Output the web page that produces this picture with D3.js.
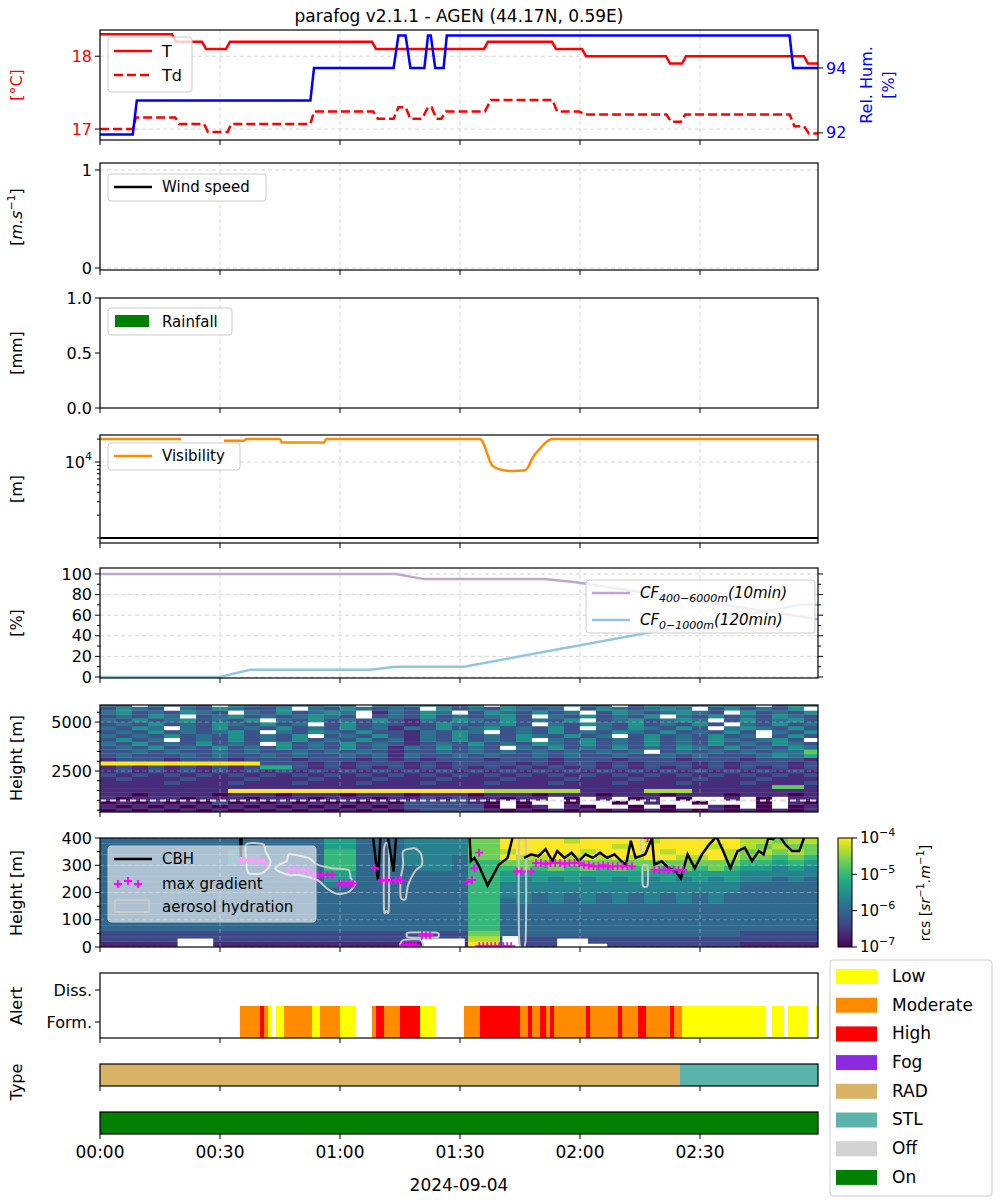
<!DOCTYPE html>
<html><head><meta charset="utf-8">
<script src="https://cdn.jsdelivr.net/npm/d3@7"></script>
<style>body{margin:0;background:#fff;font-family:"DejaVu Sans",sans-serif}</style>
</head><body><svg id="c" width="1000" height="1200"></svg>
<script>
// ---------------- DATA ----------------
const T_time=[0,18,19,25.5,26.5,31.5,32.5,68,69,96,97,113,114,120.5,121.5,141.5,142.5,145.5,146.5,176,177,179.5];
const T_val=[18.3,18.3,18.2,18.2,18.1,18.1,18.2,18.2,18.1,18.1,18.2,18.2,18.1,18.1,18.0,18.0,17.9,17.9,18.0,18.0,17.9,17.9];
const Td_time=[0,8.2,9,18.8,19.8,26,27,31.9,32.8,52.6,53.5,68.3,69.5,73.4,74.6,76.4,77.6,80.5,82,82.9,84.1,85.3,86.5,96.2,97.7,113.1,114.3,119.7,121.4,141.6,142.8,145.2,146.3,172.4,173.6,176,177.2,179.5];
const Td_val=[17.0,17.0,17.16,17.16,17.07,17.07,16.96,16.96,17.07,17.07,17.24,17.24,17.14,17.14,17.3,17.3,17.14,17.14,17.3,17.3,17.14,17.14,17.24,17.24,17.4,17.4,17.24,17.24,17.2,17.2,17.1,17.1,17.2,17.2,17.04,17.04,16.94,16.94];
const RH_time=[0,8.2,9.2,52.6,53.5,73.4,74.6,76.4,77.6,81.1,82,82.7,83.8,85.9,86.7,172.4,173.3,179.5];
const RH_val=[91.95,91.95,93,93,94,94,95,95,94,94,95,95,94,94,95,95,94,94];
const Vis_time=[0,20.3,20.8,30.5,31,36,36.5,45,45.5,56,56.5,95,96,97,98,100,103,106,107,108,110,112,113,179.5];
const Vis_val=[20000,20000,NaN,NaN,19000,19000,20000,20000,18000,18000,20000,20000,17000,12000,9000,8000,7600,7700,8500,11000,15000,19000,20000,20000];
const CFh_time=[0,74,81,111,119,179.5];
const CFh_val=[100,100,95,95,92,56];
const CFl_time=[0,30,37.5,67.5,74,91,175,179.5];
const CFl_val=[0,0,7,7,10,10,70,70];
// upper ceilometer (400-6000 m, 200 m rows, 4-min columns), level 0..9, x = missing
const hiRows=[ // row 0 = 400-600 m
"0101010101010101010122221010101010101010101010",
"1010101010101010101222220x01x10xx0x0xx10x0x01",
"0101010201010101010222210x0xx0xx0x1xx0xxx0x10",
"1011101110111011101121211011x0x1x01x0xx1x0x11",
"1101111011101110111011101110111011101110111011",
"1111111199999999999999997777771111777111111111",
"1111111111111111111111111111111111111111116611",
"1111211121112111211121112111211121112111211121",
"1211121112111211121112111211121112111211121112",
"2121212121212121212121212121212121212121212121",
"1212121212121212121212121212121212121212121212",
"1212121212552121212121212121212121212121212121",
"8888888888222121222121222212122121222121222121",
"1222122212221222121212221222122212221222122212",
"2322232322323223231322323223232232232322234352",
"2232322323223232321223232323232323x2323232336",
"2324232423242324231324232x3242324232432423243",
"3242324232x4232423212324232432423242324232432",
"2423x2324232423242313242324x3242324232432342x",
"3232423242324x232421324232432423x24232423x242",
"2324232342x3243242213243x2324232432423242x324",
"3243x3242324232423132423423242x3243242x343242",
"2324232432423x2423212432342x32432423242x32423",
"3242342324x3242324213243242324x2342343x242342",
"23243x2342323432x2324232342x3242324x324232432",
"34232432x3242343x13243x2432423x24323432x42324",
"2432x3243224x3243232x42324323x2432343x242324x",
"32x4232x43223242x3243224x3232432x24232423x243"];
// lower ceilometer (0-400 m, 20 m rows)
const loRows=[ // row 0 = 0-20 m
"11111111111111"+"11"+"111"+"1111"+"99"+"222222222222222"+"11111",
"22222222222222"+"22"+"222"+"2222"+"88"+"222222222222222"+"22222",
"22222222222222"+"22"+"222"+"2222"+"77"+"333333333333333"+"22222",
"33333333333333"+"33"+"333"+"3333"+"66"+"333333333333333"+"33333",
"33333333333333"+"33"+"333"+"3333"+"66"+"333333333333333"+"33333",
"33333333333333"+"33"+"333"+"3333"+"66"+"333333333333333"+"33333",
"33333333333333"+"33"+"333"+"3333"+"66"+"333333333333333"+"33333",
"33333333333333"+"33"+"333"+"3333"+"66"+"333333333333333"+"33333",
"33333333333333"+"33"+"333"+"3333"+"66"+"343434343434343"+"33333",
"33333333333333"+"33"+"333"+"3333"+"66"+"443434343434343"+"33333",
"33333333333333"+"33"+"333"+"3333"+"66"+"444444444444444"+"33333",
"33333333333333"+"44"+"333"+"3333"+"66"+"444444444444444"+"33333",
"33333333333333"+"55"+"333"+"3333"+"66"+"545454545454545"+"44343",
"33333333333333"+"55"+"333"+"3333"+"66"+"555555555555555"+"44444",
"33333333333333"+"66"+"333"+"3443"+"66"+"676767676767676"+"55454",
"33333333443333"+"66"+"333"+"4443"+"66"+"777777777777777"+"66565",
"33333333443333"+"66"+"333"+"4443"+"77"+"988989898998898"+"77676",
"33333333433333"+"66"+"333"+"4444"+"77"+"899998999989998"+"78787",
"33333333333333"+"55"+"333"+"4444"+"77"+"999999989999989"+"87877",
"33333333333333"+"55"+"333"+"4444"+"77"+"999989999899999"+"88788"];
const loMissing=[[19.4,28.3,31],[80.5,91.2,31],[100.6,104.8,40],[114.3,122,31],[122,126.8,12]];
const CBH_time=[35,35.2,35.4,NaN,68.3,69.5,70.1,NaN,72.0,73.4,74.0,NaN,92.4,92.7,93.6,94.8,96.9,98.3,99.7,101.9,103.1,NaN,106.0,107.8,109.6,111.4,113.1,114.3,116.1,117.9,119.7,121.4,123.2,125.0,126.8,128.6,130.3,131.5,132.7,133.9,136.3,138.0,138.6,140.4,142.2,144.0,145.2,146.9,148.7,150.5,152.3,154.1,155.8,157.6,159.4,161.2,163.0,164.7,165.9,167.1,168.3,169.5,171.3,173.0,174.8,176.0];
const CBH_val=[410,330,410,NaN,400,245,400,NaN,400,277,400,NaN,400,315,327,296,226,264,302,327,400,NaN,327,340,333,359,315,352,327,346,315,340,327,346,327,340,315,302,390,327,340,400,302,315,289,277,252,340,289,340,377,405,352,289,352,365,315,352,340,400,396,415,377,352,352,400];
const grad_time=[35,36.2,37.4,38.6,39.8,41,47.3,48.5,49.7,50.9,52.1,53.3,54.5,55.7,56.9,58.1,59.8,61,62.2,63.3,68.7,70.4,71.6,72.8,74,75.2,91.8,93,93.6,94.8,104.2,105.4,107.8,109,110.2,111.4,112.6,113.8,115,116.2,117.4,118.6,119.8,121,122.2,123.4,124.6,125.8,127,128.2,129.4,130.6,131.8,133,136.9,138.6,139.8,141,142.2,143.4,144.6,145.8,75.8,76.6,77.4,78.2,79,80.5,81.5,82.5,94.8,95.8,96.8,97.8,98.8,99.8,100.8,101.8,102.8];
const grad_val=[317,317,320,317,317,310,283,283,283,280,283,264,264,264,264,264,233,233,233,233,289,245,245,245,245,245,239,246,289,346,277,277,277,308,308,305,308,308,308,305,308,308,308,300,300,296,296,300,296,296,296,296,296,296,400,283,283,283,283,283,283,283,6,6,6,6,6,44,44,44,3,3,3,3,3,3,3,3,3];
const hydro=[
 [[36.6,377],[40.8,377],[41.4,352],[42.6,315],[42.0,289],[40.2,270],[37.2,270],[36.6,302]],
 [[47.3,340],[52.1,327],[54.4,302],[58.0,289],[62.1,283],[62.7,252],[63.9,233],[62.1,201],[59.2,195],[56.8,214],[54.4,245],[49.7,264],[47.3,264],[44.9,277],[43.8,289],[44.9,302],[46.7,315]],
 [[71.0,359],[72.2,365],[72.2,138],[71.6,132],[71.0,138]],
 [[75.8,352],[78.7,362],[80.3,340],[80.5,302],[78.7,277],[77.0,226],[76.4,176],[75.2,182],[75.2,252],[75.8,302]],
 [[104.8,402],[106.4,402],[106.4,25],[104.8,25]],
 [[135.3,396],[136.9,396],[136.9,352],[135.3,352]],
 [[135.7,296],[136.9,296],[136.9,226],[135.7,226]],
 [[77.2,53],[84.0,53],[84.7,44],[84.0,35],[77.2,35],[76.7,44]],
 [[75.2,0],[75.8,25],[80.0,27],[80.5,0]]];
const alertSeg=[[35,40,"M"],[40,41,"H"],[41,42,"M"],[42,43,"L"],[44,46,"L"],[46,53,"M"],[53,55,"L"],[55,60,"M"],[60,64,"L"],[68,69,"M"],[69,71,"H"],[71,75,"M"],[75,80,"H"],[80,84,"L"],[91,95,"M"],[95,105,"H"],[105,107,"M"],[107,108,"H"],[108,110,"M"],[110,111.5,"H"],[111.5,112.5,"M"],[112.5,113.5,"H"],[113.5,121.5,"M"],[121.5,122.5,"H"],[122.5,129.5,"M"],[129.5,130.5,"H"],[130.5,134.5,"M"],[134.5,136.5,"H"],[136.5,142.5,"M"],[142.5,143.5,"H"],[143.5,145.5,"M"],[145.5,166.5,"L"],[168,171,"L"],[172,177,"L"],[179,179.5,"L"]];
const typeSeg=[[0,145,"RAD"],[145,179.5,"STL"]];
const onSeg=[[0,179.5,"On"]];
const xTicks=[0,30,60,90,120,150];
const xTickLabels=["00:00","00:30","01:00","01:30","02:00","02:30"];
const legendNames=["Low","Moderate","High","Fog","RAD","STL","Off","On"];
const legendColors=["#ffff00","#ff8c00","#ff0000","#8a2be2","#d8b365","#5ab4ac","#d3d3d3","#008000"];
const lvlColor={L:"#ffff00",M:"#ff8c00",H:"#ff0000"};
const catColor={RAD:"#d8b365",STL:"#5ab4ac",On:"#008000",Off:"#d3d3d3",Fog:"#8a2be2"};

// ---------------- DRAW ----------------
const svg=d3.select("#c");
const X=d3.scaleLinear([0,179.5],[100,818]);
const L=100,R=818;
const FS=16;
const zip=(a,b)=>a.map((t,i)=>[t,b[i]]);
let clipN=0;
function panel(top,bot,opts={}){
  const g=svg.append("g");
  const id="cl"+(clipN++);
  svg.append("clipPath").attr("id",id).append("rect").attr("x",L).attr("y",top).attr("width",R-L).attr("height",bot-top);
  const inner=g.append("g").attr("clip-path",`url(#${id})`);
  if(opts.vgrid!==false) xTicks.forEach(t=>inner.append("line").attr("x1",X(t)).attr("x2",X(t)).attr("y1",top).attr("y2",bot).attr("stroke","#ccc").attr("stroke-dasharray","4,3").attr("stroke-width",0.8));
  return {g,inner,top,bot,finish(){
    g.append("rect").attr("x",L).attr("y",top).attr("width",R-L).attr("height",bot-top).attr("fill","none").attr("stroke","#000").attr("stroke-width",1.2);
    xTicks.forEach(t=>g.append("line").attr("x1",X(t)).attr("x2",X(t)).attr("y1",bot).attr("y2",bot+5).attr("stroke","#000"));
  }};
}
function yAxis(p,y,ticks,fmt,opts={}){
  const g=p.g, side=opts.right?R:L, dir=opts.right?1:-1;
  if(opts.grid) ticks.forEach(t=>p.inner.append("line").attr("x1",L).attr("x2",R).attr("y1",y(t)).attr("y2",y(t)).attr("stroke",opts.gridColor||"#ccc").attr("stroke-dasharray","4,3").attr("stroke-width",0.8));
  ticks.forEach((t,i)=>{
    g.append("line").attr("x1",side).attr("x2",side+dir*5).attr("y1",y(t)).attr("y2",y(t)).attr("stroke","#000");
    const tx=g.append("text").attr("x",side+dir*8).attr("y",y(t)).attr("dy","0.35em").attr("text-anchor",opts.right?"start":"end").attr("font-size",FS).attr("fill",opts.color||"#000");
    const s=fmt(t,i); if(typeof s==="function") s(tx); else tx.text(s);
  });
  (opts.minor||[]).forEach(t=>{ g.append("line").attr("x1",side).attr("x2",side+dir*3).attr("y1",y(t)).attr("y2",y(t)).attr("stroke","#000");
    if(opts.minorBoth) g.append("line").attr("x1",R).attr("x2",R+3).attr("y1",y(t)).attr("y2",y(t)).attr("stroke","#000");});
}
function ylabel(x,y,txt,color,size){
  const t=svg.append("text").attr("transform",`translate(${x},${y}) rotate(-90)`).attr("text-anchor","middle").attr("font-size",size||FS).attr("fill",color||"#000");
  if(typeof txt==="function") txt(t); else t.text(txt);
  return t;
}
function legendBox(x,y,w,h,op){
  svg.append("rect").attr("x",x).attr("y",y).attr("width",w).attr("height",h).attr("rx",3).attr("fill","#fff").attr("fill-opacity",op||0.8).attr("stroke","#ccc");
}

svg.append("text").attr("x",459).attr("y",22).attr("text-anchor","middle").attr("font-size",17).text("parafog v2.1.1 - AGEN (44.17N, 0.59E)");

// Panel 1
{const p=panel(30,140);
 const yL=d3.scaleLinear([16.85,18.36],[140,30]), yR=d3.scaleLinear([91.78,95.17],[140,30]);
 yAxis(p,yL,[17,18],d=>d,{grid:true,color:"red"});
 yAxis(p,yR,[92,94],d=>d,{right:true,color:"blue"});
 const ln=d3.line();
 p.inner.append("path").attr("d",ln(zip(T_time,T_val).map(d=>[X(d[0]),yL(d[1])]))).attr("fill","none").attr("stroke","red").attr("stroke-width",2.5);
 p.inner.append("path").attr("d",ln(zip(Td_time,Td_val).map(d=>[X(d[0]),yL(d[1])]))).attr("fill","none").attr("stroke","red").attr("stroke-width",2.5).attr("stroke-dasharray","9,4");
 p.inner.append("path").attr("d",ln(zip(RH_time,RH_val).map(d=>[X(d[0]),yR(d[1])]))).attr("fill","none").attr("stroke","blue").attr("stroke-width",2.5);
 p.finish();
 legendBox(108,37,84,55);
 svg.append("line").attr("x1",114).attr("x2",152).attr("y1",51).attr("y2",51).attr("stroke","red").attr("stroke-width",2.5);
 svg.append("line").attr("x1",114).attr("x2",152).attr("y1",75).attr("y2",75).attr("stroke","red").attr("stroke-width",2.5).attr("stroke-dasharray","9,4");
 svg.append("text").attr("x",162).attr("y",57).attr("font-size",16).text("T");
 svg.append("text").attr("x",162).attr("y",81).attr("font-size",16).text("Td");
 ylabel(22,85,"[°C]","red");
 ylabel(872,85,"Rel. Hum.","blue");
 ylabel(894,85,"[%]","blue");
}
// Panel 2 wind
{const p=panel(163,270);
 const y=d3.scaleLinear([-0.02,1.071],[270,163]);
 yAxis(p,y,[0,1],d=>d,{grid:true});
 p.finish();
 legendBox(108,174,158,27);
 svg.append("line").attr("x1",114).attr("x2",152).attr("y1",187).attr("y2",187).attr("stroke","#000").attr("stroke-width",2.5);
 svg.append("text").attr("x",162).attr("y",192).attr("font-size",15).text("Wind speed");
 ylabel(22,217,t=>{t.append("tspan").text("[");t.append("tspan").attr("font-style","italic").text("m.s");t.append("tspan").attr("dy",-7).attr("font-size",11).text("−1");t.append("tspan").attr("dy",7).text("]");});
}
// Panel 3 rain
{const p=panel(298,408);
 const y=d3.scaleLinear([0,1],[408,298]);
 yAxis(p,y,[0,0.5,1],d=>d.toFixed(1));
 p.finish();
 legendBox(108,308,124,27);
 svg.append("rect").attr("x",115).attr("y",315).attr("width",34).attr("height",12).attr("fill","green");
 svg.append("text").attr("x",162).attr("y",327).attr("font-size",15).text("Rainfall");
 ylabel(22,353,"[mm]");
}
// Panel 4 visibility
{const p=panel(435,543);
 const y=d3.scaleLog([859,22650],[543,435]);
 yAxis(p,y,[10000],()=>t=>{t.append("tspan").text("10");t.append("tspan").attr("dy",-8).attr("font-size",11).text("4");},{grid:true,minor:[1000,2000,3000,4000,5000,6000,7000,8000,9000,20000]});
 const pts=zip(Vis_time,Vis_val);
 p.inner.append("path").attr("d",d3.line().defined(d=>!isNaN(d[1])).curve(d3.curveMonotoneX).x(d=>X(d[0])).y(d=>y(d[1]))(pts)).attr("fill","none").attr("stroke","darkorange").attr("stroke-width",2.5);
 p.inner.append("line").attr("x1",L).attr("x2",R).attr("y1",y(1000)).attr("y2",y(1000)).attr("stroke","#000").attr("stroke-width",2);
 p.finish();
 legendBox(108,443,132,27);
 svg.append("line").attr("x1",114).attr("x2",152).attr("y1",456).attr("y2",456).attr("stroke","darkorange").attr("stroke-width",2.5);
 svg.append("text").attr("x",162).attr("y",461).attr("font-size",15).text("Visibility");
 ylabel(22,489,"[m]");
}
// Panel 5 CF
{const p=panel(568,678);
 const y=d3.scaleLinear([-1,105.8],[678,568]);
 yAxis(p,y,[0,20,40,60,80,100],d=>d,{grid:true,minor:[10,30,50,70,90],minorBoth:true});
 [0,20,40,60,80,100].forEach(t=>p.g.append("line").attr("x1",R).attr("x2",R+5).attr("y1",y(t)).attr("y2",y(t)).attr("stroke","#000"));
 const ln=d3.line().x(d=>X(d[0])).y(d=>y(d[1]));
 p.inner.append("path").attr("d",ln(zip(CFh_time,CFh_val))).attr("fill","none").attr("stroke","#c2a5cf").attr("stroke-width",2.5);
 p.inner.append("path").attr("d",ln(zip(CFl_time,CFl_val))).attr("fill","none").attr("stroke","#92c5de").attr("stroke-width",2.5);
 p.finish();
 legendBox(586,580,229,53);
 svg.append("line").attr("x1",592).attr("x2",630).attr("y1",593).attr("y2",593).attr("stroke","#c2a5cf").attr("stroke-width",2.5);
 svg.append("line").attr("x1",592).attr("x2",630).attr("y1",620).attr("y2",620).attr("stroke","#92c5de").attr("stroke-width",2.5);
 const lt=(yy,sub,par)=>{const t=svg.append("text").attr("x",640).attr("y",yy).attr("font-size",15).attr("font-style","italic");
   t.append("tspan").text("CF");t.append("tspan").attr("dy",4).attr("font-size",11).text(sub);t.append("tspan").attr("dy",-4).text(par);};
 lt(598,"400−6000m","(10min)");lt(625,"0−1000m","(120min)");
 ylabel(22,623,"[%]");
}
// Panel 6 high ceilometer
const vir=t=>d3.interpolateViridis(Math.min(1,t));
{const p=panel(705,812,{vgrid:false});
 const y=d3.scaleLinear([408,5870],[812,705]);
 hiRows.forEach((s,r)=>{for(let c=0;c<45;c++){const ch=s[c]||"2"; const x0=X(c*4),x1=X(Math.min(c*4+4,179.5));
   p.inner.append("rect").attr("x",x0).attr("y",y(600+200*r)).attr("width",x1-x0+0.3).attr("height",y(400+200*r)-y(600+200*r)+0.3).attr("fill",ch==="x"?"#fff":vir(+ch/8));}});
 xTicks.forEach(t=>p.inner.append("line").attr("x1",X(t)).attr("x2",X(t)).attr("y1",705).attr("y2",812).attr("stroke","#bbb").attr("stroke-opacity",0.5).attr("stroke-dasharray","4,3"));
 yAxis(p,y,[2500,5000],d=>d,{grid:true,gridColor:"rgba(200,200,200,0.5)",minor:[500,1000,1500,2000,3000,3500,4000,4500,5500]});
 p.inner.append("line").attr("x1",L).attr("x2",R).attr("y1",y(1000)).attr("y2",y(1000)).attr("stroke","#ddd").attr("stroke-width",2).attr("stroke-dasharray","6,4");
 p.finish();
 ylabel(22,758,"Height [m]");
}
// Panel 7 low ceilometer
{const p=panel(838,947,{vgrid:false});
 const y=d3.scaleLinear([0,400],[947,838]);
 loRows.forEach((s,r)=>{for(let c=0;c<45;c++){const ch=s[c]||"3"; const x0=X(c*4),x1=X(Math.min(c*4+4,179.5));
   p.inner.append("rect").attr("x",x0).attr("y",y(20+20*r)).attr("width",x1-x0+0.3).attr("height",y(20*r)-y(20+20*r)+0.3).attr("fill",vir(+ch/9));}});
 loMissing.forEach(m=>p.inner.append("rect").attr("x",X(m[0])).attr("y",y(m[2])).attr("width",X(m[1])-X(m[0])).attr("height",y(0)-y(m[2])).attr("fill","#fff"));
 xTicks.forEach(t=>p.inner.append("line").attr("x1",X(t)).attr("x2",X(t)).attr("y1",838).attr("y2",947).attr("stroke","#ccc").attr("stroke-opacity",0.5).attr("stroke-dasharray","4,3"));
 yAxis(p,y,[0,100,200,300,400],d=>d,{grid:true,gridColor:"rgba(200,200,200,0.5)",minor:[50,150,250,350]});
 hydro.forEach(poly=>p.inner.append("path").attr("d",d3.line().curve(d3.curveCardinalClosed.tension(0.3))(poly.map(d=>[X(d[0]),y(d[1])]))).attr("fill","none").attr("stroke","#c8c8c8").attr("stroke-width",2));
 p.inner.append("path").attr("d",d3.line().defined(d=>!isNaN(d[0])).x(d=>X(d[0])).y(d=>y(d[1]))(zip(CBH_time,CBH_val))).attr("fill","none").attr("stroke","#000").attr("stroke-width",2.5);
 zip(grad_time,grad_val).forEach(d=>p.inner.append("path").attr("d",`M${X(d[0])-4},${y(d[1])}h8M${X(d[0])},${y(d[1])-4}v8`).attr("stroke","magenta").attr("stroke-width",1.8));
 p.finish();
 legendBox(108,846,208,76,0.6);
 svg.append("line").attr("x1",114).attr("x2",152).attr("y1",859).attr("y2",859).attr("stroke","#000").attr("stroke-width",2.5);
 [118,128,138].forEach((xx,i)=>svg.append("path").attr("d",`M${xx-4},${884-(i===1?3:0)}h8M${xx},${880-(i===1?3:0)}v8`).attr("stroke","magenta").attr("stroke-width",1.8));
 svg.append("rect").attr("x",115).attr("y",900).attr("width",34).attr("height",12).attr("fill","none").attr("stroke","#c8c8c8").attr("stroke-width",2);
 svg.append("text").attr("x",162).attr("y",864).attr("font-size",15).text("CBH");
 svg.append("text").attr("x",162).attr("y",889).attr("font-size",15).text("max gradient");
 svg.append("text").attr("x",162).attr("y",912).attr("font-size",15).text("aerosol hydration");
 ylabel(22,893,"Height [m]");
 const defs=svg.append("defs");const gr=defs.append("linearGradient").attr("id","vg").attr("x1",0).attr("x2",0).attr("y1",1).attr("y2",0);
 d3.range(0,1.01,0.1).forEach(t=>gr.append("stop").attr("offset",t).attr("stop-color",vir(t)));
 svg.append("rect").attr("x",838).attr("y",838).attr("width",14).attr("height",109).attr("fill","url(#vg)").attr("stroke","#000");
 const cy=d3.scaleLog([1e-7,1e-4],[947,838]);
 [-7,-6,-5,-4].forEach(e=>{svg.append("line").attr("x1",852).attr("x2",857).attr("y1",cy(Math.pow(10,e))).attr("y2",cy(Math.pow(10,e))).attr("stroke","#000");
   const t=svg.append("text").attr("x",860).attr("y",cy(Math.pow(10,e))).attr("dy","0.35em").attr("font-size",15);
   t.append("tspan").text("10");t.append("tspan").attr("dy",-7).attr("font-size",11).text("−"+(-e));});
 ylabel(930,893,t=>{t.attr("font-size",14);t.append("tspan").text("rcs [");t.append("tspan").attr("font-style","italic").text("sr");t.append("tspan").attr("dy",-6).attr("font-size",10).text("−1");t.append("tspan").attr("dy",6).attr("font-style","italic").text(".m");t.append("tspan").attr("dy",-6).attr("font-size",10).text("−1");t.append("tspan").attr("dy",6).text("]");});
}
// Panel 8 alert
{const p=panel(973,1038,{vgrid:false});
 const y=d3.scalePoint(["Diss.","Form."],[990,1022]);
 alertSeg.forEach(s=>p.inner.append("rect").attr("x",X(s[0])).attr("y",1006).attr("width",X(s[1])-X(s[0])).attr("height",32).attr("fill",lvlColor[s[2]]));
 yAxis(p,y,["Diss.","Form."],d=>d);
 p.finish();
 ylabel(22,1006,"Alert");
}
{const p=panel(1064,1086,{vgrid:false});
 typeSeg.forEach(s=>p.inner.append("rect").attr("x",X(s[0])).attr("y",1064).attr("width",X(s[1])-X(s[0])).attr("height",22).attr("fill",catColor[s[2]]));
 p.finish(); ylabel(22,1082,"Type");}
{const p=panel(1112,1134,{vgrid:false});
 onSeg.forEach(s=>p.inner.append("rect").attr("x",X(s[0])).attr("y",1112).attr("width",X(s[1])-X(s[0])).attr("height",22).attr("fill",catColor[s[2]]));
 p.finish();
 xTicks.forEach((t,i)=>svg.append("text").attr("x",X(t)).attr("y",1158).attr("text-anchor","middle").attr("font-size",17).text(xTickLabels[i]));
 svg.append("text").attr("x",459).attr("y",1191).attr("text-anchor","middle").attr("font-size",17).text("2024-09-04");
}
legendBox(830,960,162,236,0.9);
legendNames.forEach((n,i)=>{const yy=976+i*28.7;
  svg.append("rect").attr("x",836).attr("y",yy-7).attr("width",41).attr("height",15).attr("fill",legendColors[i]);
  svg.append("text").attr("x",892).attr("y",yy).attr("dy","0.35em").attr("font-size",17).text(n);});
</script></body></html>
